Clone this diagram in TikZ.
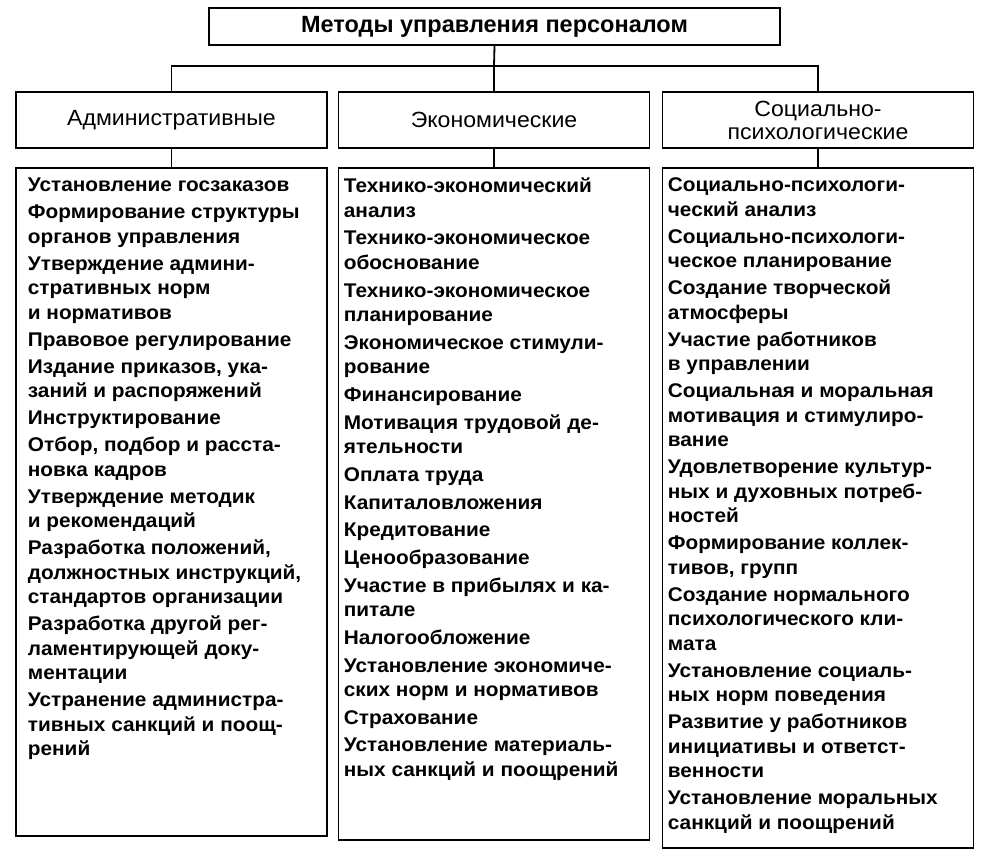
\documentclass[tikz,border=0pt]{standalone}
\usepackage{fontspec}
\setmainfont{Liberation Sans}
\newfontfamily\widefont[FakeStretch=1.05]{Liberation Sans}
\begin{document}
\begin{tikzpicture}[x=1pt,y=-1pt,
  line width=1.8pt,
  box/.style={draw, line width=1.8pt, inner sep=0pt},
  head/.style={box, minimum width=311, minimum height=56, align=center,
    font=\widefont\fontsize{22}{23}\selectfont},
  col/.style={box, minimum width=311},
  items/.style={anchor=north west, align=left, inner sep=0pt,
    font=\widefont\fontsize{19.8}{24.5}\selectfont\bfseries},
  conn/.style={draw, line width=1.8pt}
]
\useasboundingbox (0,0) rectangle (990,862);
% top
\node[box, minimum width=571, minimum height=37,
  font=\fontsize{23.5}{26}\selectfont\bfseries] (top) at (494.5,26.5) {Методы управления персоналом};
% level 2
\node[head] (adm) at (171.5,120) {Административные};
\node[head] (eco) at (494,120) {Экономические};
\node[head] (soc) at (818,120) {Социально-\\психологические};
% level 3 boxes
\node[col, minimum height=668] (admL) at (171.5,502) {};
\node[col, minimum height=672] (ecoL) at (494,504) {};
\node[col, minimum height=680] (socL) at (818,508) {};
% connectors
\coordinate (hub) at (494,66);
\draw[conn] (top.south) -- (hub);
\draw[conn] (adm.north) |- (hub) -| (soc.north);
\draw[conn] (hub) -- (eco.north);
\draw[conn] (adm.south) -- (admL.north);
\draw[conn] (eco.south) -- (ecoL.north);
\draw[conn] (soc.south) -- (socL.north);
% texts
\def\g{\\[2.5pt]}
\def\ge{\\[3.2pt]}
\node[items] (admT) at (27,177) {Установление госзаказов\g
Формирование структуры\\органов управления\g
Утверждение админи-\\стративных норм\\и нормативов\g
Правовое регулирование\g
Издание приказов, ука-\\заний и распоряжений\g
Инструктирование\g
Отбор, подбор и расста-\\новка кадров\g
Утверждение методик\\и рекомендаций\g
Разработка положений,\\должностных инструкций,\\стандартов организации\g
Разработка другой рег-\\ламентирующей доку-\\ментации\g
Устранение администра-\\тивных санкций и поощ-\\рений};
\node[items] (ecoT) at (343,177) {Технико-экономический\\анализ\ge
Технико-экономическое\\обоснование\ge
Технико-экономическое\\планирование\ge
Экономическое стимули-\\рование\ge
Финансирование\ge
Мотивация трудовой де-\\ятельности\ge
Оплата труда\ge
Капиталовложения\ge
Кредитование\ge
Ценообразование\ge
Участие в прибылях и ка-\\питале\ge
Налогообложение\ge
Установление экономиче-\\ских норм и нормативов\ge
Страхование\ge
Установление материаль-\\ных санкций и поощрений};
\node[items] (socT) at (667,177) {Социально-психологи-\\ческий анализ\g
Социально-психологи-\\ческое планирование\g
Создание творческой\\атмосферы\g
Участие работников\\в управлении\g
Социальная и моральная\\мотивация и стимулиро-\\вание\g
Удовлетворение культур-\\ных и духовных потреб-\\ностей\g
Формирование коллек-\\тивов, групп\g
Создание нормального\\психологического кли-\\мата\g
Установление социаль-\\ных норм поведения\g
Развитие у работников\\инициативы и ответст-\\венности\g
Установление моральных\\санкций и поощрений};
\end{tikzpicture}
\end{document}
